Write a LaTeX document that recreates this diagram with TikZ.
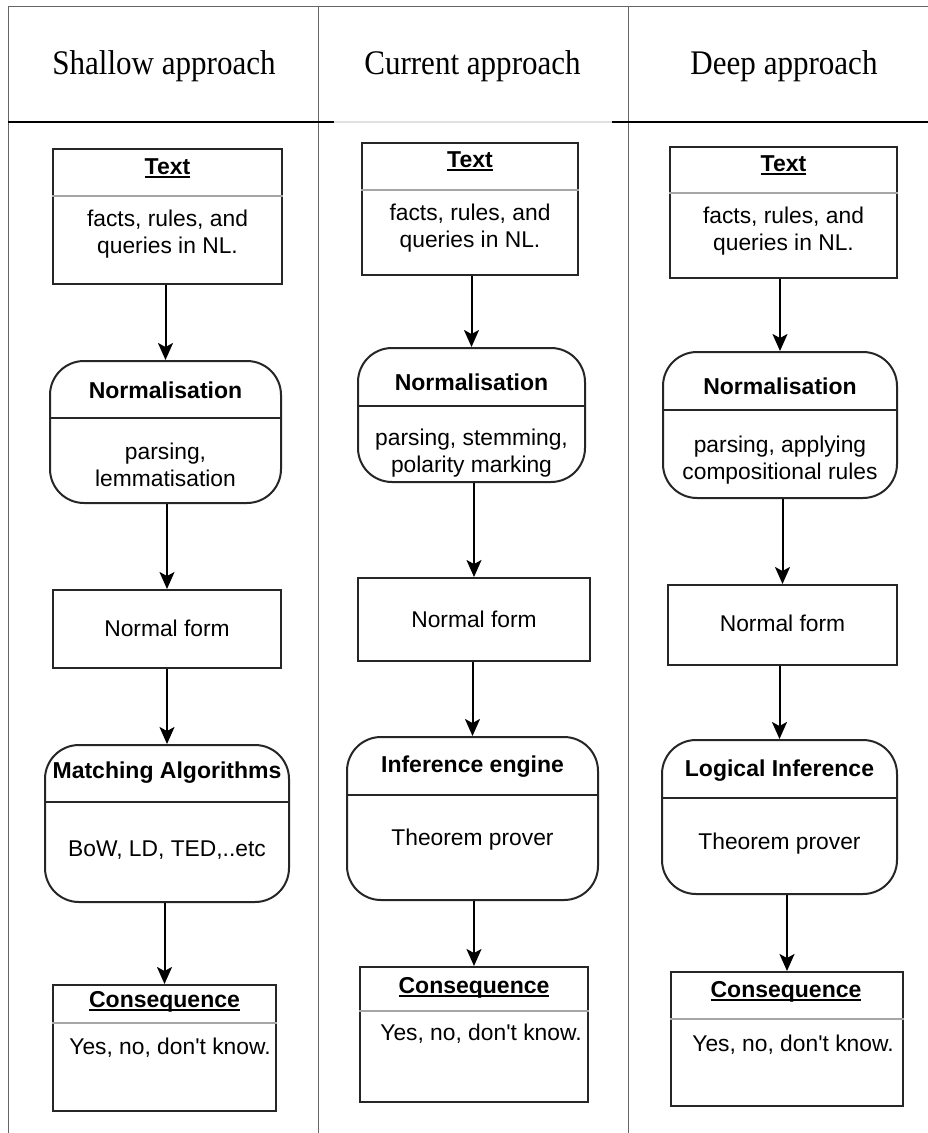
\documentclass[tikz,border=0pt]{standalone}
\usepackage{fontspec}
\setmainfont{Liberation Serif}
\newfontfamily\boxfont{Liberation Sans}
\newfontfamily\headfont[FakeStretch=0.9]{Liberation Serif}
\usetikzlibrary{arrows.meta}

% underline that sits just under the baseline
\newcommand\titleul[1]{\setbox0\hbox{#1}\rlap{\rule[-3.5pt]{\wd0}{1.8pt}}\box0}

\tikzset{
  gridline/.style={draw=black!60, line width=1pt},
  headrule/.style={draw=black, line width=1.8pt},
  plainbox/.style={draw=black!85, line width=2pt, rectangle, inner sep=0pt},
  roundbox/.style={plainbox, rounded corners=34pt},
  sepgray/.style={draw=black!35, line width=1.6pt},
  sepblack/.style={draw=black!85, line width=2pt},
  ttl/.style={font=\boxfont\fontsize{23}{27}\selectfont\bfseries, inner sep=0pt},
  body/.style={font=\boxfont\fontsize{22.8}{26.5}\selectfont, align=center, inner sep=0pt},
  head/.style={font=\headfont\fontsize{34.5}{40}\selectfont, anchor=base, inner sep=0pt},
  flow/.style={draw=black, line width=2pt, -{Stealth[length=17pt,width=15pt,inset=4pt]}},
}

% box given by its corners: name, x1, y1, x2, y2, style
\newcommand\flowbox[6]{%
  \node[#6, minimum width={#4-#2}, minimum height={#5-#3}] (#1)
    at ({(#2+#4)/2},{(#3+#5)/2}) {};}
% vertical connector dropping onto the top of the next box
\newcommand\flowarrow[2]{\draw[flow] (#2.north |- #1.south) -- (#2.north);}

\begin{document}
\begin{tikzpicture}[x=1pt,y=-1pt]
  \useasboundingbox (0,0) rectangle (928,1133);
  \fill[white] (0,0) rectangle (928,1133);

  % table frame
  \coordinate (tl) at (8,6);
  \coordinate (tr) at (928,6);
  \coordinate (bl) at (8,1133);
  \coordinate (c1t) at (318,6);
  \coordinate (c1b) at (318,1133);
  \coordinate (c2t) at (628,6);
  \coordinate (c2b) at (628,1133);
  \draw[gridline] (tl) -- (tr);
  \draw[gridline] (tl) -- (bl);
  \draw[gridline] (c1t) -- (c1b);
  \draw[gridline] (c2t) -- (c2b);
  \coordinate (h0) at (8,122);
  \coordinate (h1) at (334,122);
  \coordinate (h2) at (612,122);
  \coordinate (h3) at (928,122);
  \draw[headrule] (h0) -- (h1);
  \draw[draw=black!12, line width=1.5pt] (h1) -- (h2);
  \draw[headrule] (h2) -- (h3);

  % column headings
  \node[head] (hs) at (164,74) {Shallow approach};
  \node[head] (hc) at (472.5,74) {Current approach};
  \node[head] (hd) at (784,74) {Deep approach};

  % ---------------- shallow approach ----------------
  \flowbox{s1}{53}{149}{282}{284}{plainbox}
  \draw[sepgray] (s1.west |- 0,196) -- (s1.east |- 0,196);
  \node[ttl] (s1t) at (167.5,168) {\titleul{Text}};
  \node[body] (s1b) at (167.5,234) {facts, rules, and\\queries in NL.};

  \flowbox{s2}{50}{361}{281}{503}{roundbox}
  \draw[sepblack] (s2.west |- 0,418) -- (s2.east |- 0,418);
  \node[ttl] (s2t) at (165.5,390) {Normalisation};
  \node[body] (s2b) at (165.5,465) {parsing,\\lemmatisation};

  \flowbox{s3}{53}{590}{281}{668}{plainbox}
  \node[body] (s3t) at (167,628) {Normal form};

  \flowbox{s4}{45}{745}{289}{902}{roundbox}
  \draw[sepblack] (s4.west |- 0,802) -- (s4.east |- 0,802);
  \node[ttl] (s4t) at (167,773) {Matching Algorithms};
  \node[body] (s4b) at (167,850) {BoW, LD, TED,..etc};

  \flowbox{s5}{53}{985}{276}{1111}{plainbox}
  \draw[sepgray] (s5.west |- 0,1023) -- (s5.east |- 0,1023);
  \node[ttl] (s5t) at (164.5,1002) {\titleul{Consequence}};
  \node[body] (s5b) at (170,1048) {Yes, no, don't know.};

  \flowarrow{s1}{s2}
  \flowarrow{s2}{s3}
  \flowarrow{s3}{s4}
  \flowarrow{s4}{s5}

  % ---------------- current approach ----------------
  \flowbox{c1}{362}{143}{578}{275}{plainbox}
  \draw[sepgray] (c1.west |- 0,190) -- (c1.east |- 0,190);
  \node[ttl] (c1t) at (470,161) {\titleul{Text}};
  \node[body] (c1b) at (470,228) {facts, rules, and\\queries in NL.};

  \flowbox{c2}{358}{348}{585}{482}{roundbox}
  \draw[sepblack] (c2.west |- 0,406) -- (c2.east |- 0,406);
  \node[ttl] (c2t) at (471.5,382) {Normalisation};
  \node[body] (c2b) at (471.5,453) {parsing, stemming,\\polarity marking};

  \flowbox{c3}{358}{578}{590}{661}{plainbox}
  \node[body] (c3t) at (474,619) {Normal form};

  \flowbox{c4}{347}{737}{598}{900}{roundbox}
  \draw[sepblack] (c4.west |- 0,795) -- (c4.east |- 0,795);
  \node[ttl] (c4t) at (472.5,767) {Inference engine};
  \node[body] (c4b) at (472.5,840) {Theorem prover};

  \flowbox{c5}{360}{967}{588}{1102}{plainbox}
  \draw[sepgray] (c5.west |- 0,1011) -- (c5.east |- 0,1011);
  \node[ttl] (c5t) at (474,988) {\titleul{Consequence}};
  \node[body] (c5b) at (481,1034) {Yes, no, don't know.};

  \flowarrow{c1}{c2}
  \flowarrow{c2}{c3}
  \flowarrow{c3}{c4}
  \flowarrow{c4}{c5}

  % ---------------- deep approach ----------------
  \flowbox{d1}{670}{147}{897}{278}{plainbox}
  \draw[sepgray] (d1.west |- 0,193) -- (d1.east |- 0,193);
  \node[ttl] (d1t) at (783.5,165) {\titleul{Text}};
  \node[body] (d1b) at (783.5,231) {facts, rules, and\\queries in NL.};

  \flowbox{d2}{663}{352}{897}{498}{roundbox}
  \draw[sepblack] (d2.west |- 0,410) -- (d2.east |- 0,410);
  \node[ttl] (d2t) at (780,386) {Normalisation};
  \node[body] (d2b) at (780,460) {parsing, applying\\compositional rules};

  \flowbox{d3}{668}{585}{897}{665}{plainbox}
  \node[body] (d3t) at (782.5,623) {Normal form};

  \flowbox{d4}{662}{740}{897}{894}{roundbox}
  \draw[sepblack] (d4.west |- 0,798) -- (d4.east |- 0,798);
  \node[ttl] (d4t) at (779.5,771) {Logical Inference};
  \node[body] (d4b) at (779.5,844) {Theorem prover};

  \flowbox{d5}{671}{972}{903}{1106}{plainbox}
  \draw[sepgray] (d5.west |- 0,1019) -- (d5.east |- 0,1019);
  \node[ttl] (d5t) at (786,992) {\titleul{Consequence}};
  \node[body] (d5b) at (793,1045) {Yes, no, don't know.};

  \flowarrow{d1}{d2}
  \flowarrow{d2}{d3}
  \flowarrow{d3}{d4}
  \flowarrow{d4}{d5}
\end{tikzpicture}
\end{document}
